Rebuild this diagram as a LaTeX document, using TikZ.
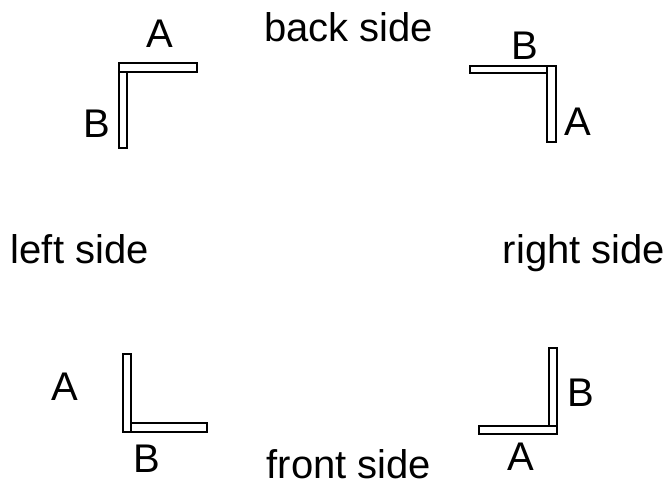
\documentclass[tikz,border=0pt]{standalone}
\usepackage{fontspec}
\setmainfont{Liberation Sans}
\usepackage{tikz}
\usetikzlibrary{positioning}

\begin{document}
\begin{tikzpicture}[x=1pt, y=-1pt,
        bar/.style={draw=black, fill=white, line width=1.7pt},
        letter/.style={inner sep=0pt, font=\fontsize{40}{48}\selectfont},
        side/.style={inner sep=0pt, anchor=base, font=\fontsize{40}{48}\selectfont}]
        \useasboundingbox (0,0) rectangle (668,483);

        % back left corner (A along the back)
        \draw[bar] (119.3,71.7) rectangle (126.7,148.3);
        \draw[bar] (119.3,63.3) rectangle (197.3,71.7);
        \node[letter] (bl A) at (160,34) {A};
        \node[letter] (bl B) at (97,124) {B};

        % back right corner (A along the right)
        \draw[bar] (470,65.7) rectangle (547.3,73.3);
        \draw[bar] (547.3,65.7) rectangle (556,142.3);
        \node[letter] (br B) at (524.5,46) {B};
        \node[letter] (br A) at (578,122) {A};

        % front left corner (A along the left)
        \draw[bar] (130.7,423.3) rectangle (207.3,431.7);
        \draw[bar] (122.7,354.3) rectangle (130.7,431.7);
        \node[letter] (fl A) at (65,387) {A};
        \node[letter] (fl B) at (147,459) {B};

        % front right corner (A along the front)
        \draw[bar] (549.3,348.3) rectangle (557.3,426);
        \draw[bar] (479.3,426) rectangle (557.3,434);
        \node[letter] (fr B) at (581,393) {B};
        \node[letter] (fr A) at (521,457) {A};

        % Labels
        \node[side] (back) at (348.5,41.7) {back side};
        \node[side] (left) at (79.7,263.3) {left side};
        \node[side] (right) at (584,263) {right side};
        \node[side] (front) at (349,478.5) {front side};
    \end{tikzpicture}
\end{document}
